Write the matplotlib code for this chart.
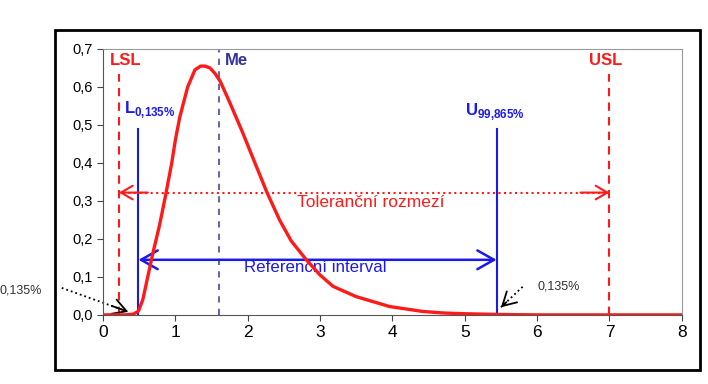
import numpy as np
import matplotlib
matplotlib.use('Agg')
import matplotlib.pyplot as plt
from matplotlib.patches import Rectangle

plt.rcParams['font.family'] = ['Liberation Sans', 'DejaVu Sans']
plt.rcParams['mathtext.fontset'] = 'custom'
plt.rcParams['mathtext.rm'] = 'Liberation Sans'
plt.rcParams['mathtext.bf'] = 'Liberation Sans:bold'

# density curve
x = [0, 0.3, 0.42, 0.49, 0.55, 0.60, 0.69, 0.78, 0.86, 0.95, 1.0, 1.06, 1.17,
     1.27, 1.35, 1.41, 1.48, 1.55, 1.62, 1.75, 1.93, 2.1, 2.26, 2.44, 2.6,
     2.81, 3.0, 3.18, 3.5, 3.96, 4.42, 4.7, 5.0, 5.5, 6.0, 8.0]
y = [0, 0, 0.002, 0.01, 0.04, 0.084, 0.163, 0.235, 0.31, 0.40, 0.46, 0.52, 0.60,
     0.645, 0.655, 0.655, 0.65, 0.635, 0.615, 0.56, 0.48, 0.40, 0.325, 0.25,
     0.195, 0.145, 0.105, 0.075, 0.048, 0.022, 0.009, 0.005, 0.003, 0.001, 0, 0]

LSL, USL = 0.22, 7.0
L, U = 0.49, 5.44
Me = 1.61

xticks = [0, 1, 2, 3, 4, 5, 6, 7, 8]
yticks = [0, 0.1, 0.2, 0.3, 0.4, 0.5, 0.6, 0.7]
ylabels = ['0,0', '0,1', '0,2', '0,3', '0,4', '0,5', '0,6', '0,7']

red = '#ff1a1a'
blue = '#1a1aee'

fig = plt.figure(figsize=(7.08, 3.84), dpi=100)
ax = fig.add_axes([0.1455, 0.18, 0.8175, 0.6924])

# outer black frame
fig.patches.append(Rectangle((0.0777, 0.036), 0.911, 0.886, transform=fig.transFigure,
                             fill=False, edgecolor='black', lw=2))

ax.plot(x, y, color=red, lw=2.4, zorder=5)

ax.plot([LSL, LSL], [0, 0.635], color=red, ls=(0, (4, 3)), lw=1.5)
ax.plot([USL, USL], [0, 0.635], color=red, ls=(0, (4, 3)), lw=1.5)
ax.plot([Me, Me], [0, 0.7], color='#6a6a9a', ls=(0, (3, 3)), lw=1.5)
ax.plot([L, L], [0, 0.49], color=blue, lw=1.5)
ax.plot([U, U], [0, 0.49], color=blue, lw=1.5)

ax.text(0.32, 0.67, 'LSL', color=red, fontsize=12, fontweight='bold', ha='center', va='center')
ax.text(6.95, 0.67, 'USL', color=red, fontsize=12, fontweight='bold', ha='center', va='center')
ax.text(1.84, 0.67, 'Me', color='#333399', fontsize=12, fontweight='bold', ha='center', va='center')
ax.text(0.65, 0.54, r'$\mathbf{L}_{\mathbf{0{,}135\%}}$', color=blue, fontsize=12,
        ha='center', va='center')
ax.text(5.41, 0.535, r'$\mathbf{U}_{\mathbf{99{,}865\%}}$', color=blue, fontsize=12,
        ha='center', va='center')

# tolerance interval (dotted red)
ty = 0.322
ax.plot([LSL + 0.05, USL - 0.05], [ty, ty], color=red, ls=':', lw=1.5)
for a, b in [(LSL + 0.4, LSL), (USL - 0.4, USL)]:
    ax.annotate('', xy=(b, ty), xytext=(a, ty),
                arrowprops=dict(arrowstyle='->, head_length=0.6, head_width=0.35',
                                color=red, lw=1.5, mutation_scale=14, shrinkA=0, shrinkB=0))
ax.text(3.7, 0.295, 'Toleranční rozmezí', color=red, fontsize=12.5, ha='center', va='center')

# reference interval (solid blue)
ry = 0.145
ax.annotate('', xy=(L, ry), xytext=(U, ry),
            arrowprops=dict(arrowstyle='<->, head_length=0.8, head_width=0.45',
                            color=blue, lw=1.8, mutation_scale=15, shrinkA=0, shrinkB=0))
ax.text(2.94, 0.124, 'Referenční interval', color=blue, fontsize=12.2, ha='center', va='center')

# small tail pointers: dotted shaft, solid open head
pointers = [((-0.57, 0.071), (0.35, 0.008)), ((5.8, 0.074), (5.5, 0.02))]
for (x0, y0), (x1, y1) in pointers:
    ax.plot([x0, x1], [y0, y1], color='black', ls=':', lw=1.3, clip_on=False)
    dx, dy = x1 - x0, y1 - y0
    ax.annotate('', xy=(x1, y1), xytext=(x1 - 0.25 * dx, y1 - 0.25 * dy),
                arrowprops=dict(arrowstyle='->, head_length=0.8, head_width=0.45',
                                color='black', lw=1.3, mutation_scale=12,
                                shrinkA=0, shrinkB=0, alpha=1), annotation_clip=False)
ax.text(-0.84, 0.063, '0,135%', fontsize=9, color='#333333', ha='right', va='center')
ax.text(6.0, 0.074, '0,135%', fontsize=9, color='#333333', ha='left', va='center')

ax.set_xlim(0, 8)
ax.set_ylim(0, 0.7)
ax.set_xticks(xticks)
ax.set_xticklabels([str(t) for t in xticks], fontsize=12.5)
ax.set_yticks(yticks)
ax.set_yticklabels(ylabels, fontsize=10.5)
ax.tick_params(direction='out', length=4, color='#444444')
for s in ['top', 'right']:
    ax.spines[s].set_color('#999999')
for s in ['left', 'bottom']:
    ax.spines[s].set_color('#555555')

fig.savefig('out.png', dpi=100)
